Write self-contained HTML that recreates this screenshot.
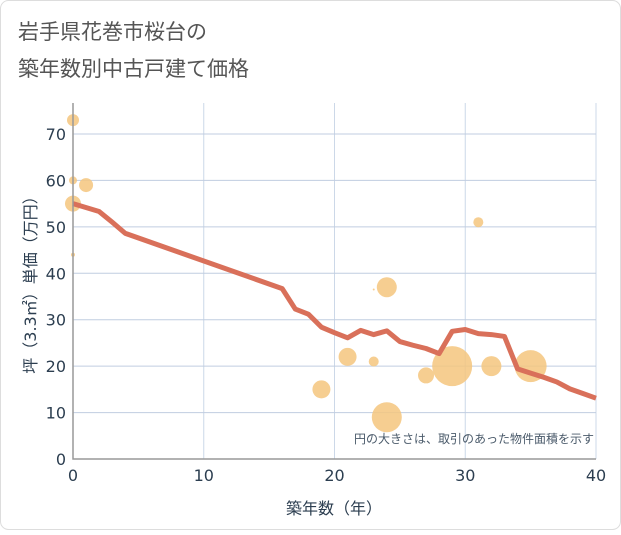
<!DOCTYPE html>
<html><head><meta charset="utf-8"><style>
body{margin:0;background:#fff;}
svg text{font-family:"DejaVu Sans","Noto Sans CJK JP",sans-serif;}
</style></head><body>
<svg width="621" height="530" xmlns="http://www.w3.org/2000/svg">
<rect x="0.5" y="0.5" width="620" height="529" rx="8" fill="#fff" stroke="#ddd"/>
<text x="18" y="39" font-size="21" fill="#555">岩手県花巻市桜台の</text>
<text x="18" y="76" font-size="21" fill="#555">築年数別中古戸建て価格</text>
<g id="grid"></g>
<g id="bubbles"></g>
<g id="line"></g>
<g id="axes"></g>
<text x="594" y="443" font-size="12" fill="#4a5a6a" text-anchor="end">円の大きさは、取引のあった物件面積を示す</text>
<text x="334" y="514" font-size="16" fill="#2c3e50" text-anchor="middle">築年数（年）</text>
<text transform="translate(36,281) rotate(-90)" font-size="16" fill="#2c3e50" text-anchor="middle">坪（3.3㎡）単価（万円）</text>
</svg>
<script>
const xTicks=[0,10,20,30,40];
const yTicks=[0,10,20,30,40,50,60,70];
const lineX=[0,2,3,4,16,17,18,19,20,21,22,23,24,25,26,27,28,29,30,31,32,33,34,35,36,37,38,39,40];
const lineY=[55,53.3,51,48.6,36.7,32.3,31.2,28.4,27.2,26.1,27.7,26.8,27.6,25.3,24.5,23.8,22.7,27.5,27.9,27.0,26.8,26.4,19.4,18.5,17.6,16.6,15.1,14.1,13.1];
const bubX=[0,0,0,1,0,19,21,23,23,24,24,27,29,31,32,35];
const bubY=[73,60,55,59,44,15,22,21,36.5,37,9,18,20,51,20,20];
const bubR=[6,4,8,7,2,9,9,5,1,10,15,8,20,5,10,16];
const L=73,R=596,T=103,B=459;
const sx=v=>L+(R-L)*v/40;
const sy=v=>B-(B-134)*v/70;
const NS="http://www.w3.org/2000/svg";
function mk(tag,attrs,parent){const e=document.createElementNS(NS,tag);for(const k in attrs)e.setAttribute(k,attrs[k]);parent.appendChild(e);return e;}
const grid=document.getElementById('grid'),axes=document.getElementById('axes');
xTicks.forEach(t=>{
 const l=mk('line',{x1:sx(t),x2:sx(t),y1:T,y2:B,stroke:'#ccd8e8','stroke-width':1},grid);
 
 
 const tx=mk('text',{x:sx(t),y:B+22,'font-size':16,fill:'#2c3e50','text-anchor':'middle'},axes);
 tx.textContent=t;
 
 
});
yTicks.forEach(t=>{
 const l=mk('line',{x1:L,x2:R,y1:sy(t),y2:sy(t),stroke:'#c0cde0','stroke-width':1},grid);
 
 
 const tx=mk('text',{x:L-7,y:sy(t)+6,'font-size':16,fill:'#2c3e50','text-anchor':'end'},axes);
 tx.textContent=t;
 
 
});
const ax=mk('path',{d:`M${L},${T}V${B}H${R}`,fill:'none',stroke:'#999','stroke-width':1.5},axes);


const bg=document.getElementById('bubbles');
bubX.forEach((x,i)=>{
 const c=mk('circle',{cx:sx(x),cy:sy(bubY[i]),r:bubR[i],fill:'#f5c57e','fill-opacity':0.85},bg);
 
 
});
const p=mk('polyline',{points:lineX.map((x,i)=>sx(x)+','+sy(lineY[i])).join(' '),fill:'none',stroke:'#d9705a','stroke-width':5,'stroke-linejoin':'round'},document.getElementById('line'));


</script>
</body></html>
